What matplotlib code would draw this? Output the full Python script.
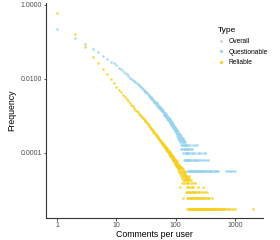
import numpy as np
import matplotlib
matplotlib.use("Agg")
import matplotlib.pyplot as plt
from matplotlib.lines import Line2D

# ---------------- data ----------------
# user totals implied by the lowest frequency level (1 user)
questionable_users = 30900
reliable_users = 331000

# counts of users for comments-per-user = 1, 2, 3, ... (contiguous head)
questionable_head = [
    6900, 3890, 2690, 1950, 1620, 1320, 1070, 910, 813, 724,
    631, 562, 501, 457, 417, 380, 339, 316, 295, 275,
    257, 240, 229, 214, 204, 191, 178, 166, 158, 148,
    141, 135, 126, 120, 115, 107, 102, 101, 90, 93,
    82, 86, 76, 79, 70, 74, 66, 69, 59, 63,
    55, 59, 51, 55, 47, 51, 44, 48, 41, 45,
    39, 42, 36, 39, 33, 37, 31, 34, 29, 33,
    27, 31, 26, 29, 24, 28, 23, 26, 22, 25,
    20, 23, 19, 22, 18, 21, 17, 20, 16, 19,
    15, 18, 16, 14, 17, 13, 16, 12, 15, 14,
    11, 14, 12, 10, 13, 11, 9, 12, 10, 8,
    11, 9, 7, 10, 8, 8, 9, 7, 10, 6,
    8, 5, 9, 7, 4, 8, 6, 5, 7, 4,
    6, 8, 5, 3, 7, 4, 6, 2, 5, 4,
    7, 3, 5, 4, 2, 6, 3, 5, 4, 2,
    3, 5, 2, 4, 3, 1, 5, 2, 3, 4,
]
reliable_head = [
    204000, 53700, 24000, 13200, 8700, 6030, 4570, 3390, 2630, 2040,
    1700, 1440, 1240, 1070, 940, 830, 740, 665, 600, 543,
    495, 453, 416, 384, 355, 329, 306, 286, 267, 251,
    235, 221, 209, 197, 187, 177, 168, 161, 147, 139,
    138, 124, 125, 112, 114, 103, 99, 100, 88, 91,
    84, 79, 80, 71, 74, 66, 70, 61, 63, 58,
    60, 53, 55, 49, 53, 46, 50, 44, 47, 40,
    44, 38, 41, 35, 39, 33, 37, 31, 35, 30,
    34, 28, 31, 26, 30, 25, 29, 23, 27, 22,
    26, 21, 25, 19, 23, 20, 18, 22, 17, 21,
    16, 19, 15, 20, 16, 14, 18, 13, 17, 15,
    12, 16, 11, 14, 13, 10, 15, 4, 9, 13,
    11, 14, 8, 12, 10, 13, 9, 5, 7, 10,
    12, 8, 11, 2, 6, 10, 8, 11, 5, 9,
    6, 8, 10, 7, 6, 9, 7, 8, 6, 3,
    7, 5, 8, 4, 1, 3, 6, 2, 7, 5,
]

# sparse tail: comments-per-user values observed with 1, 2, 3 ... users
questionable_tail_1 = [163, 168, 174, 179, 183, 188, 192, 197, 203, 208, 214, 219,
                       226, 231, 238, 245, 252, 259, 267, 276, 284, 293, 303, 314,
                       326, 338, 351, 365, 381, 398, 416, 436, 458, 481, 506, 520,
                       712, 760, 812, 870, 935, 1002]
questionable_tail_2 = [161, 166, 171, 177, 185, 194, 201, 211, 222, 234, 248, 262,
                       281, 302, 327, 354]
questionable_tail_3 = [164, 176, 187, 199, 213, 236, 250, 271, 298, 316]
questionable_tail_4 = [170, 182, 189]
questionable_tail_5 = [162, 178, 196, 212, 230]

reliable_tail_1 = [168, 171, 177, 183, 186, 190, 194, 197, 201, 205, 208, 212, 215,
                   219, 223, 226, 229, 233, 236, 241, 244, 248, 252, 257, 261, 266,
                   270, 274, 279, 283, 288, 293, 298, 303, 309, 314, 320, 326, 331,
                   338, 345, 351, 358, 366, 373, 381, 389, 398, 406, 415, 424, 434,
                   445, 457, 468, 481, 494, 509, 523, 540, 556, 573, 590, 612, 634,
                   655, 682, 715, 758, 795, 862, 931, 1004, 2040]
reliable_tail_2 = [163, 169, 174, 181, 188, 195, 203, 210, 218, 227, 235, 245, 254,
                   265, 276, 287, 301, 316, 333, 352, 372, 404]
reliable_tail_3 = [164, 172, 178, 187, 196, 206, 213, 224, 237, 251, 268, 289, 312, 334]
reliable_tail_4 = [161, 176, 189, 199, 240, 290]
reliable_tail_5 = [165, 179, 198, 209]
reliable_tail_6 = [162, 167, 184]
reliable_tail_7 = [170]
reliable_tail_8 = [166]

type_labels = ["Overall", "Questionable", "Reliable"]
y_ticks = [1.0, 0.01, 0.0001]
y_tick_labels = ["1.0000", "0.0100", "0.0001"]
x_ticks = [1, 10, 100, 1000]
x_tick_labels = ["1", "10", "100", "1000"]


def assemble(head, tails, users):
    xs = list(range(1, len(head) + 1))
    ns = list(head)
    for level, vals in tails:
        xs += vals
        ns += [level] * len(vals)
    return np.array(xs, float), np.array(ns, float) / users


qx, qy = assemble(questionable_head,
                  [(1, questionable_tail_1), (2, questionable_tail_2),
                   (3, questionable_tail_3), (4, questionable_tail_4),
                   (5, questionable_tail_5)], questionable_users)
rx, ry = assemble(reliable_head,
                  [(1, reliable_tail_1), (2, reliable_tail_2), (3, reliable_tail_3),
                   (4, reliable_tail_4), (5, reliable_tail_5), (6, reliable_tail_6),
                   (7, reliable_tail_7), (8, reliable_tail_8)], reliable_users)

# ---------------- plot ----------------
plt.rcParams['font.family'] = ['Liberation Sans', 'DejaVu Sans']
col_overall = "#D9D9D9"
col_q = "#94D2EE"
col_r = "#F5CF1A"

fig = plt.figure(figsize=(2.8, 2.4), dpi=100)
ax = fig.add_axes([46 / 280, 1 - 218 / 240, (263 - 46) / 280, (218 - 3) / 240])

ax.scatter(qx, qy, s=3.5, color=col_q, alpha=0.8, linewidths=0, zorder=2)
ax.scatter(rx, ry, s=3.5, color=col_r, alpha=0.8, linewidths=0, zorder=3)

ax.set_xscale("log")
ax.set_yscale("log")
ax.set_xlim(10 ** -0.185, 10 ** 3.474)
ax.set_ylim(10 ** -5.757, 10 ** 0.054)
ax.set_xticks(x_ticks)
ax.set_xticklabels(x_tick_labels)
ax.set_yticks(y_ticks)
ax.set_yticklabels(y_tick_labels)
ax.minorticks_off()
ax.tick_params(axis="both", labelsize=5, colors="#4D4D4D", length=1.8, width=0.6, pad=1)
ax.tick_params(axis="both", color="#333333")
for side in ["top", "right"]:
    ax.spines[side].set_visible(False)
for side in ["left", "bottom"]:
    ax.spines[side].set_linewidth(0.8)
    ax.spines[side].set_color("#333333")

ax.set_xlabel("Comments per user", fontsize=6.3, labelpad=0.5)
ax.set_ylabel("Frequency", fontsize=6.3, labelpad=3)

handles = [Line2D([], [], marker="o", linestyle="", markersize=2.2,
                  markerfacecolor=c, markeredgewidth=0)
           for c in (col_overall, col_q, col_r)]
leg = fig.legend(handles, type_labels, title="Type", loc="upper left",
                 bbox_to_anchor=(0.765, 0.9), frameon=False, fontsize=4.8,
                 title_fontsize=6, handlelength=1.0, handletextpad=0.6,
                 labelspacing=0.55, borderpad=0)
leg._legend_box.align = "left"

fig.savefig("out.png", dpi=100)
